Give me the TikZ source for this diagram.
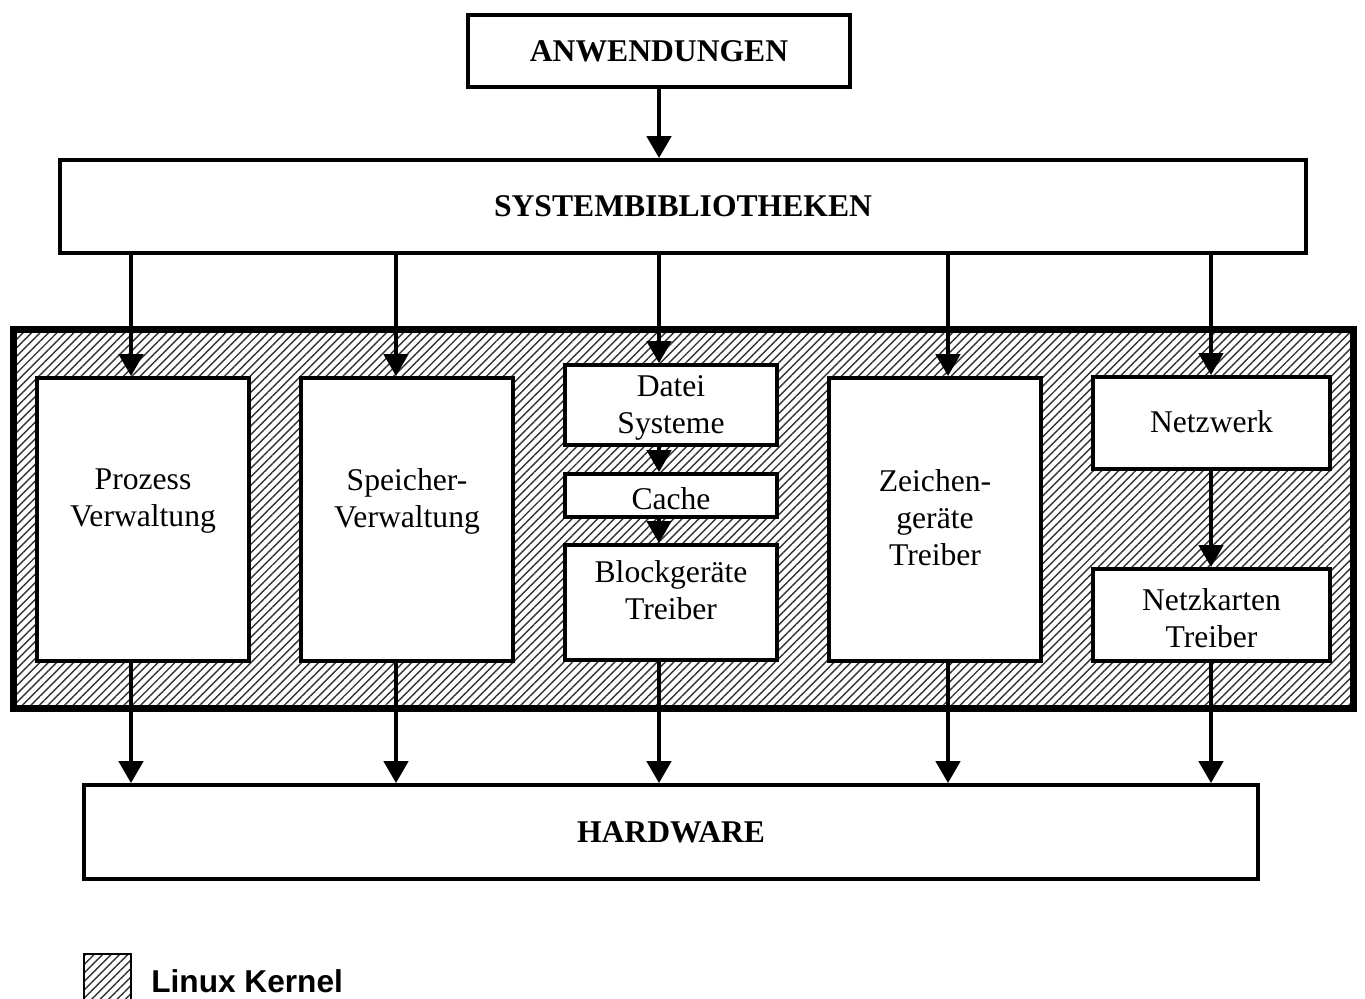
\documentclass[tikz,border=0pt]{standalone}
\usepackage{fontspec}
\setmainfont{Liberation Serif}
\newfontfamily\legendfont{Liberation Sans}
\usetikzlibrary{arrows.meta,patterns.meta}

\begin{document}
\begin{tikzpicture}[x=0.02cm, y=-0.02cm,
    box/.style={draw, line width=2.3pt, fill=white, inner sep=0pt},
    lbl/.style={align=center, font=\fontsize{18}{21}\selectfont},
    head/.style={font=\fontsize{18}{21}\selectfont\bfseries},
    arr/.style={line width=1.8pt, -{Triangle[length=12.5pt,width=14pt]}},
    hatch/.style={pattern={Lines[angle=45,distance=3.4pt,line width=0.8pt]}, pattern color=black!80}]

    \useasboundingbox (0,0) rectangle (1365,998);

    %Applications and libraries
    \node[box, head, minimum width=7.64cm, minimum height=1.44cm] (anw) at (659,51) {ANWENDUNGEN};
    \node[box, head, minimum width=24.92cm, minimum height=1.86cm] (sys) at (683,206.5) {SYSTEMBIBLIOTHEKEN};

    %Kernel area
    \node[draw, line width=4pt, hatch, minimum width=26.82cm, minimum height=7.6cm] (kern) at (683.5,519) {};

    %Kernel parts
    \node[box, minimum width=4.24cm, minimum height=5.66cm] (pz) at (143,519.5) {};
    \node[box, minimum width=4.24cm, minimum height=5.66cm] (sp) at (407,519.5) {};
    \node[box, minimum width=4.24cm, minimum height=1.60cm] (ds) at (671,405) {};
    \node[box, minimum width=4.24cm, minimum height=0.86cm] (ca) at (671,495.5) {};
    \node[box, minimum width=4.24cm, minimum height=2.30cm] (bg) at (671,602.5) {};
    \node[box, minimum width=4.24cm, minimum height=5.66cm] (zg) at (935,519.5) {};
    \node[box, minimum width=4.74cm, minimum height=1.84cm] (nw) at (1211.5,423) {};
    \node[box, minimum width=4.74cm, minimum height=1.84cm] (nk) at (1211.5,615) {};

    %Hardware
    \node[box, head, minimum width=23.48cm, minimum height=1.88cm] (hw) at (671,832) {HARDWARE};

    %Text
    \node[lbl] (pztxt) at (143,501) {Prozess\\Verwaltung};
    \node[lbl] (sptxt) at (407,501) {Speicher-\\Verwaltung};
    \node[lbl] (dstxt) at (671,408) {Datei\\Systeme};
    \node[lbl] (catxt) at (671,499) {Cache};
    \node[lbl] (bgtxt) at (671,590) {Blockgeräte\\Treiber};
    \node[lbl] (zgtxt) at (935,518) {Zeichen-\\geräte\\Treiber};
    \node[lbl] (nwtxt) at (1211.5,422) {Netzwerk};
    \node[lbl] (nktxt) at (1211.5,618) {Netzkarten\\Treiber};

    %Arrow columns
    \coordinate (c1) at (131,0);
    \coordinate (c2) at (396,0);
    \coordinate (c3) at (659,0);
    \coordinate (c4) at (948,0);
    \coordinate (c5) at (1211,0);

    \draw[arr] (anw.south) -- (anw.south |- sys.north);

    \draw[arr] (c1 |- sys.south) -- (c1 |- pz.north);
    \draw[arr] (c2 |- sys.south) -- (c2 |- sp.north);
    \draw[arr] (c3 |- sys.south) -- (c3 |- ds.north);
    \draw[arr] (c4 |- sys.south) -- (c4 |- zg.north);
    \draw[arr] (c5 |- sys.south) -- (c5 |- nw.north);

    \draw[arr] (c3 |- ds.south) -- (c3 |- ca.north);
    \draw[arr] (c3 |- ca.south) -- (c3 |- bg.north);
    \draw[arr] (c5 |- nw.south) -- (c5 |- nk.north);

    \draw[arr] (c1 |- pz.south) -- (c1 |- hw.north);
    \draw[arr] (c2 |- sp.south) -- (c2 |- hw.north);
    \draw[arr] (c3 |- bg.south) -- (c3 |- hw.north);
    \draw[arr] (c4 |- zg.south) -- (c4 |- hw.north);
    \draw[arr] (c5 |- nk.south) -- (c5 |- hw.north);

    %Legend
    \node[draw, line width=0.6pt, hatch, minimum width=0.94cm, minimum height=0.92cm] (leg) at (107.5,977) {};
    \node[anchor=base west, inner sep=0pt, font=\legendfont\bfseries\fontsize{18}{21}\selectfont] (legtxt) at (151,992) {Linux Kernel};

\end{tikzpicture}
\end{document}
